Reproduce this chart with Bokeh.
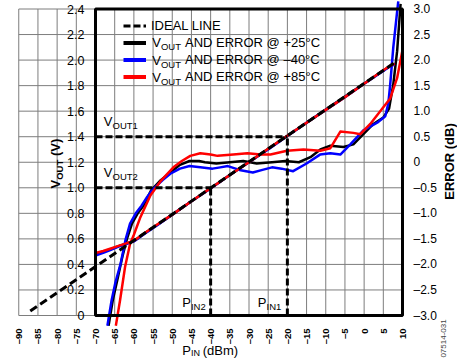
import math
from bokeh.plotting import figure
from bokeh.models import (Range1d, LinearAxis, FixedTicker, BoxAnnotation, Label,
                          Legend, LegendItem)
from bokeh.embed import file_html
from bokeh.resources import INLINE

FONT = "Liberation Sans"

# ---------------- data ----------------
pin_ticks = [-90, -85, -80, -75, -70, -65, -60, -55, -50, -45, -40, -35, -30, -25, -20, -15, -10, -5, 0, 5, 10]
pin_tick_labels = ["–90", "–85", "–80", "–75", "–70", "–65", "–60", "–55", "–50", "–45", "–40", "–35",
                   "–30", "–25", "–20", "–15", "–10", "–5", "0", "5", "10"]
vout_ticks = [0, 0.2, 0.4, 0.6, 0.8, 1.0, 1.2, 1.4, 1.6, 1.8, 2.0, 2.2, 2.4]
vout_tick_labels = ["0", "0.2", "0.4", "0.6", "0.8", "1.0", "1.2", "1.4", "1.6", "1.8", "2.0", "2.2", "2.4"]
err_ticks = [-3.0, -2.5, -2.0, -1.5, -1.0, -0.5, 0, 0.5, 1.0, 1.5, 2.0, 2.5, 3.0]
err_tick_labels = ["–3.0", "–2.5", "–2.0", "–1.5", "–1.0", "–0.5", "0", "0.5", "1.0", "1.5", "2.0", "2.5", "3.0"]

ideal_pin = [-87.0, 7.7]
ideal_vout = [0.035, 1.975]

vout_pin = [-70, -68, -66, -64, -62, -60, -57, -54, -50, -45, -40, -35, -30, -25, -20, -15, -10, -5, 0, 5, 7, 8]
vout_p25 = [0.48, 0.50, 0.52, 0.543, 0.563, 0.583, 0.648, 0.708, 0.79, 0.895, 0.997, 1.10, 1.202, 1.305,
            1.407, 1.51, 1.612, 1.714, 1.817, 1.918, 1.958, 1.97]
vout_m40 = [0.47, 0.49, 0.515, 0.54, 0.56, 0.58, 0.645, 0.705, 0.79, 0.895, 0.995, 1.10, 1.20, 1.30,
            1.405, 1.51, 1.61, 1.71, 1.815, 1.915, 1.955, 1.965]
vout_p85 = [0.49, 0.505, 0.525, 0.545, 0.565, 0.585, 0.65, 0.71, 0.79, 0.895, 0.997, 1.10, 1.20, 1.305,
            1.407, 1.51, 1.61, 1.71, 1.815, 1.92, 1.96, 1.97]

err_p25_pin = [-66.6, -65.5, -64.3, -63.0, -61.8, -60.5, -59.0, -57.5, -55.5, -53.0, -50.5, -48.0, -45.5,
               -43.0, -41.5, -38.5, -35.0, -31.5, -28.0, -24.0, -20.5, -17.0, -14.0, -11.4, -8.8, -5.4,
               -2.8, -0.2, 2.4, 5.0, 6.5, 7.6, 8.6, 9.5]
err_p25 = [-3.2, -2.7, -2.3, -1.85, -1.5, -1.2, -1.0, -0.85, -0.55, -0.35, -0.2, -0.05, 0.025,
           0.025, 0.0, -0.025, 0.0, 0.025, -0.025, 0.0, 0.025, 0.0, 0.1, 0.25, 0.325, 0.3,
           0.35, 0.55, 0.75, 0.875, 1.05, 1.525, 2.175, 3.1]

err_m40_pin = [-66.9, -65.8, -64.8, -63.5, -62.2, -61.0, -59.5, -58.0, -56.5, -55.0, -52.5, -50.5, -48.0,
               -45.5, -42.7, -39.5, -37.5, -35.5, -32.5, -29.0, -26.5, -24.0, -21.5, -18.5, -15.0, -11.5,
               -8.8, -6.2, -3.6, -0.2, 3.4, 5.5, 6.3, 6.8, 7.6, 8.6, 8.9]
err_m40 = [-3.2, -2.7, -2.35, -2.0, -1.525, -1.2, -1.0, -0.85, -0.675, -0.525, -0.35, -0.225, -0.125,
           -0.075, -0.1, -0.125, -0.1, -0.075, -0.15, -0.2, -0.15, -0.1, -0.125, -0.175, -0.025, 0.15,
           0.175, 0.15, 0.35, 0.625, 0.775, 0.9, 1.15, 1.525, 2.25, 2.95, 3.15]

err_p85_pin = [-64.7, -63.6, -62.3, -61.0, -60.0, -58.3, -55.7, -53.1, -49.7, -47.5, -45.3, -42.7, -40.0,
               -38.2, -34.1, -30.4, -27.0, -24.4, -20.1, -15.8, -11.4, -8.8, -6.2, -2.8, -1.0, 1.6,
               5.0, 6.8, 8.6, 10.0]
err_p85 = [-3.2, -2.7, -2.05, -1.6, -1.42, -1.075, -0.65, -0.375, -0.1, 0.025, 0.125, 0.175, 0.15,
           0.125, 0.15, 0.175, 0.15, 0.15, 0.225, 0.25, 0.225, 0.275, 0.6, 0.575, 0.55, 0.75,
           1.075, 1.25, 1.65, 2.2]

marker_pin = [-40, -20]      # PIN2, PIN1
marker_vout = [1.0, 1.4]     # VOUT2, VOUT1
marker_names = ["2", "1"]

series_colors = ["#000000", "#0000ff", "#ff0000"]
series_labels = ["AND ERROR @ +25°C", "AND ERROR @ –40°C", "AND ERROR @ +85°C"]
figure_id = "07514-031"

# ---------------- figure (frame fills the whole canvas) ----------------
X0, X1 = -94.756, 24.332
Y0, Y1 = -0.36802, 2.46656
p = figure(width=457, height=362, title=None,
           x_range=Range1d(X0, X1), y_range=Range1d(Y0, Y1),
           x_axis_location=None, y_axis_location=None,
           output_backend="svg", toolbar_location=None,
           min_border_left=0, min_border_right=0, min_border_top=0, min_border_bottom=0)
p.outline_line_color = None
p.xgrid.visible = False
p.ygrid.visible = False
p.extra_y_ranges = {"err": Range1d((Y0 - 1.2) * 2.5, (Y1 - 1.2) * 2.5)}

# grid lines (drawn from the tick arrays)
GRID = "#7d7d7d"
p.segment(x0=pin_ticks, y0=[vout_ticks[0]] * len(pin_ticks), x1=pin_ticks,
          y1=[vout_ticks[-1]] * len(pin_ticks), line_color=GRID, line_width=1)
p.segment(x0=[pin_ticks[0]] * len(vout_ticks), y0=vout_ticks, x1=[pin_ticks[-1]] * len(vout_ticks),
          y1=vout_ticks, line_color=GRID, line_width=1)

def plain_axis(ax):
    ax.axis_line_color = None
    ax.major_tick_line_color = None
    ax.minor_tick_line_color = None
    ax.major_label_text_font = FONT
    ax.major_label_text_color = "black"

# bottom axis fixed at 0 V
xa = LinearAxis(fixed_location=0, ticker=FixedTicker(ticks=pin_ticks))
plain_axis(xa)
xa.major_label_overrides = dict(zip(pin_ticks, pin_tick_labels))
xa.major_label_orientation = math.pi / 2
xa.major_label_text_font_size = "9.5px"
xa.major_label_text_font_style = "bold"
xa.major_label_standoff = 7
p.add_layout(xa, "below")

# left axis fixed at -70 dBm
ya = LinearAxis(fixed_location=-70, ticker=FixedTicker(ticks=vout_ticks))
plain_axis(ya)
ya.major_label_overrides = dict(zip(vout_ticks, vout_tick_labels))
ya.major_label_text_font_size = "12.5px"
ya.major_label_standoff = 5
p.add_layout(ya, "left")

# right axis (error) fixed at +10 dBm
ra = LinearAxis(y_range_name="err", fixed_location=10, ticker=FixedTicker(ticks=err_ticks))
plain_axis(ra)
ra.major_label_overrides = dict(zip(err_ticks, err_tick_labels))
ra.major_label_text_font_size = "12px"
ra.major_label_standoff = 5
p.add_layout(ra, "right")

# ---------------- series ----------------
vouts = [vout_p25, vout_m40, vout_p85]
errs = [(err_p25_pin, err_p25), (err_m40_pin, err_m40), (err_p85_pin, err_p85)]
for c, v, (ep, ev) in zip(series_colors, vouts, errs):
    p.line(vout_pin, v, line_color=c, line_width=2.5, line_join="round")
    p.line(ep, ev, line_color=c, line_width=2.5, line_join="round", y_range_name="err")

p.line(ideal_pin, ideal_vout, line_color="black", line_width=3, line_dash="8 4")

# marker dashed lines
mx, my = [], []
for xp, vv in zip(marker_pin, marker_vout):
    mx.append([pin_ticks[4], xp]); my.append([vv, vv])
    mx.append([xp, xp]); my.append([vout_ticks[0], vv])
p.multi_line(mx, my, line_color="black", line_width=3, line_dash="7 3")

# black plot box
p.add_layout(BoxAnnotation(left=pin_ticks[4], right=pin_ticks[-1], bottom=vout_ticks[0], top=vout_ticks[-1],
                           fill_alpha=0, line_color="black", line_width=3, line_alpha=1))

# ---------------- legend ----------------
sw_ideal = p.line(ideal_pin[:1], ideal_vout[:1], line_color="black", line_width=3, line_dash="7 3")
sw_series = [p.line(vout_pin[:1], v[:1], line_color=c, line_width=4, line_cap="butt")
             for c, v in zip(series_colors, vouts)]

def style_legend(lg, standoff):
    lg.background_fill_alpha = 0
    lg.border_line_alpha = 0
    lg.padding = 0
    lg.margin = 0
    lg.spacing = 0
    lg.glyph_width = 23
    lg.glyph_height = 17
    lg.label_height = 17
    lg.label_standoff = standoff
    lg.label_text_font = FONT
    lg.label_text_font_size = "13px"
    lg.label_text_color = "black"

legA = Legend(items=[LegendItem(label="IDEAL LINE", renderers=[sw_ideal])], location=(123, 328))
style_legend(legA, 5)
legB = Legend(items=[LegendItem(label=l, renderers=[r]) for l, r in zip(series_labels, sw_series)],
              location=(123, 277))
style_legend(legB, 39)
p.add_layout(legA)
p.add_layout(legB)

def lab(x, y, text, size="13px", dx=0, dy=0, bold=False, angle=0, align="left", color="black"):
    p.add_layout(Label(x=x, y=y, text=text, x_offset=dx, y_offset=dy, angle=angle,
                       text_font=FONT, text_font_size=size, text_color=color,
                       text_font_style="bold" if bold else "normal",
                       text_baseline="middle", text_align=align))

# legend "VOUT" prefixes
row_v = [2.134, 1.998, 1.864]
for rv in row_v:
    lab(-55.23, rv, "V")
    lab(-55.23, rv, "OUT", size="9.5px", dx=8.7, dy=-3.9)

# marker annotations
vout_label_y = {"1": 1.519, "2": 1.1197}
for name in marker_names:
    lab(-67.84, vout_label_y[name], "V")
    lab(-67.84, vout_label_y[name], "OUT" + name, size="9.5px", dx=8.7, dy=-3.6)
pin_label_x = {"2": -47.41, "1": -27.71}
for name in marker_names:
    lab(pin_label_x[name], 0.0979, "P")
    lab(pin_label_x[name], 0.0979, "IN" + name, size="9.5px", dx=8.7, dy=-3.4)

# x-axis title
lab(-47.41, -0.2717, "P")
lab(-47.41, -0.2717, "IN", size="9px", dx=8.7, dy=-2.5)
lab(-47.41, -0.2717, "(dBm)", dx=20.6)

# left axis title (rotated)
lab(-80.42, 0.9944, "V", bold=True, angle=math.pi / 2)
lab(-80.42, 0.9944, "OUT", size="9.5px", bold=True, angle=math.pi / 2, dx=3.5, dy=8.7)
lab(-80.42, 0.9944, "(V)", bold=True, angle=math.pi / 2, dy=32.4)

# right axis title (rotated)
lab(22.12, 1.2058, "ERROR (dB)", bold=True, angle=math.pi / 2, align="center")

# figure id
lab(20.76, -0.180, figure_id, size="8px", angle=math.pi / 2, align="center", color="#444444")

open("out.html", "w").write(file_html(p, INLINE))
